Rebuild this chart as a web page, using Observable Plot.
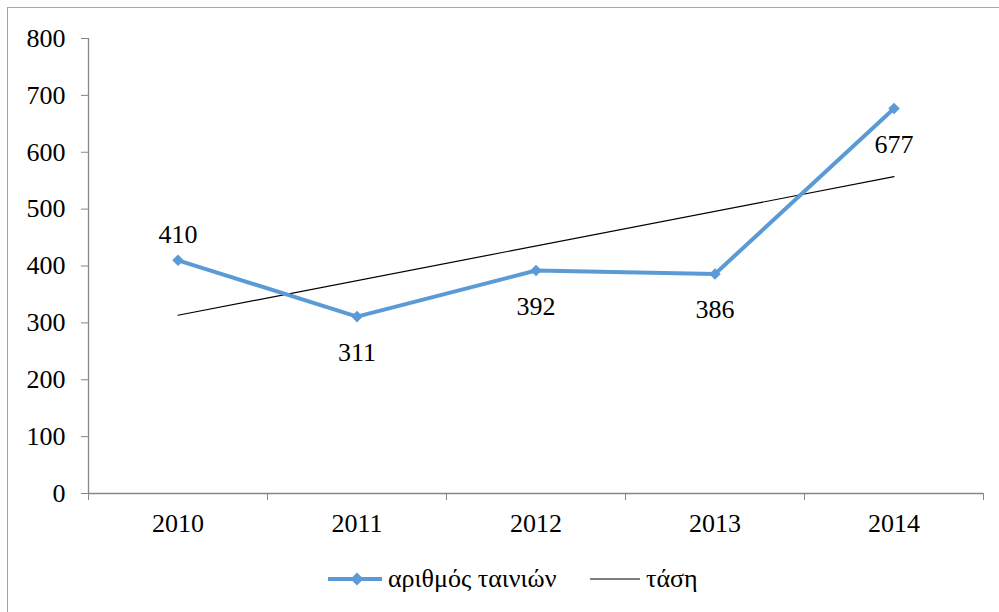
<!DOCTYPE html>
<html>
<head>
<meta charset="utf-8">
<script src="https://cdn.jsdelivr.net/npm/d3@7"></script>
<script src="https://cdn.jsdelivr.net/npm/@observablehq/plot@0.6"></script>
<style>
  html, body { margin: 0; padding: 0; background: #fff; overflow: hidden; }
  #wrap { position: relative; width: 999px; height: 612px; font-family: "Liberation Serif", Tinos, "Times New Roman", Times, "Nimbus Roman", FreeSerif, "DejaVu Serif", serif; }
  #frame { position: absolute; left: 7px; top: 7px; width: 1100px; height: 700px; border: 1px solid #a6a6a6; box-sizing: border-box; }
  #chart { position: absolute; left: 0; top: 0; }
  #legend { position: absolute; left: 0; top: 562px; width: 999px; height: 34px; font-size: 26px; color: #000; }
  .item { position: absolute; top: 0; height: 34px; display: flex; align-items: center; white-space: nowrap; }
  .item svg { display: block; }
  #chart svg, #chart svg text { font-family: "Liberation Serif", Tinos, "Times New Roman", Times, "Nimbus Roman", FreeSerif, "DejaVu Serif", serif; }
</style>
</head>
<body>
<div id="wrap">
  <div id="frame"></div>
  <div id="chart"></div>
  <div id="legend">
    <div class="item" style="left:327px">
      <svg width="56" height="20"><line x1="1" x2="55" y1="10" y2="10" stroke="#5B9BD5" stroke-width="4"/><path d="M30,3.5L36.5,10L30,16.5L23.5,10Z" fill="#5B9BD5"/></svg>
      <span id="l1" style="margin-left:5px"></span>
    </div>
    <div class="item" style="left:590px">
      <svg width="51" height="20"><line x1="0" x2="50" y1="10" y2="10" stroke="#000" stroke-width="1.2"/></svg>
      <span id="l2" style="margin-left:5px"></span>
    </div>
  </div>
</div>
<script>
const years = [2010, 2011, 2012, 2013, 2014];
const films = [410, 311, 392, 386, 677];
const labelAbove = [true, false, false, false, false];
const yTicks = [0, 100, 200, 300, 400, 500, 600, 700, 800];
const seriesName = "αριθμός ταινιών";
const trendName = "τάση";

document.getElementById("l1").textContent = seriesName;
document.getElementById("l2").textContent = trendName;

const data = years.map((y, i) => ({year: y, value: films[i], above: labelAbove[i]}));
const bounds = years.map(y => y - 0.5).concat([years[years.length - 1] + 0.5]);
const axisColor = "#868686";
const blue = "#5B9BD5";
const serif = '"Liberation Serif", Tinos, "Times New Roman", Times, "Nimbus Roman", FreeSerif, "DejaVu Serif", serif';

const chart = Plot.plot({
  width: 999,
  height: 545,
  marginLeft: 88,
  marginRight: 16,
  marginTop: 38,
  marginBottom: 52,
  style: {fontFamily: serif, fontSize: "26px", color: "#000", background: "transparent"},
  x: {type: "linear", domain: [bounds[0], bounds[bounds.length - 1]]},
  y: {domain: [0, 800]},
  marks: [
    Plot.ruleX([bounds[0]], {stroke: axisColor, strokeWidth: 1.3}),
    Plot.ruleY([0], {stroke: axisColor, strokeWidth: 1.3}),
    Plot.axisY({ticks: yTicks, tickSize: 7, tickPadding: 16, stroke: axisColor, label: null, tickFormat: d => String(d), fill: "#000", fontFamily: serif}),
    Plot.axisX({ticks: years, tickSize: 0, tickPadding: 20, label: null, tickFormat: d => String(d), fill: "#000", fontFamily: serif}),
    Plot.axisX({ticks: bounds, tickSize: 7, tickFormat: () => "", stroke: axisColor, label: null}),
    Plot.linearRegressionY(data, {x: "year", y: "value", ci: 0, stroke: "#000", strokeWidth: 1.2}),
    Plot.line(data, {x: "year", y: "value", stroke: blue, strokeWidth: 4, strokeLinejoin: "round"}),
    Plot.dot(data, {x: "year", y: "value", symbol: "diamond2", r: 5.2, fill: blue, stroke: "none"}),
    Plot.text(data.filter(d => d.above), {x: "year", y: "value", text: d => String(d.value), dy: -26, fill: "#000", fontFamily: serif}),
    Plot.text(data.filter(d => !d.above), {x: "year", y: "value", text: d => String(d.value), dy: 36, fill: "#000", fontFamily: serif})
  ]
});
document.getElementById("chart").appendChild(chart);
</script>
</body>
</html>
